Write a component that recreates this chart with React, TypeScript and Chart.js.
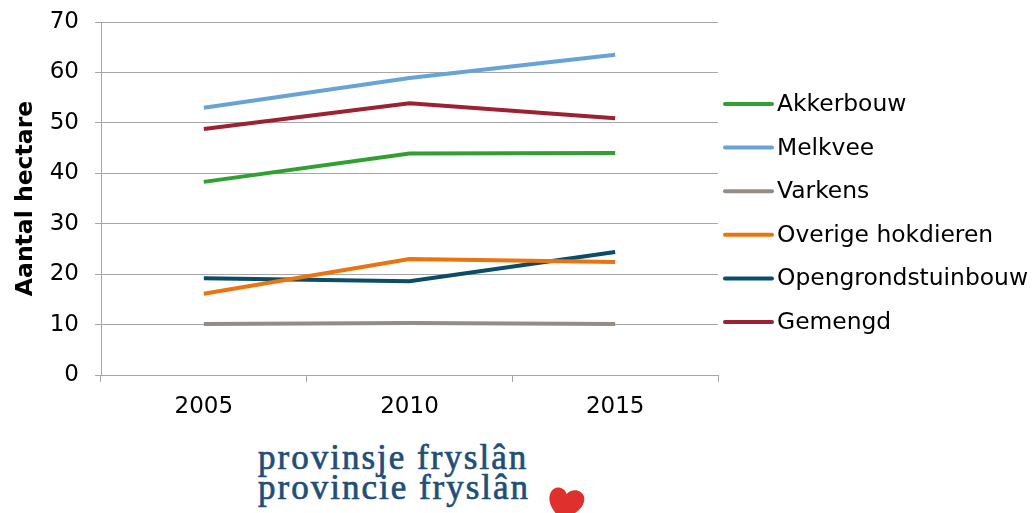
import React, { useEffect, useRef } from "react";
import { Chart, registerables } from "chart.js";

Chart.register(...registerables);

const years = ["2005", "2010", "2015"];
const akkerbouw = [38.3, 43.9, 44.0];
const melkvee = [53.0, 58.9, 63.5];
const varkens = [10.1, 10.3, 10.1];
const overigeHokdieren = [16.1, 23.0, 22.4];
const opengrondstuinbouw = [19.2, 18.6, 24.4];
const gemengd = [48.8, 53.9, 50.9];

const seriesNames = [
  "Akkerbouw",
  "Melkvee",
  "Varkens",
  "Overige hokdieren",
  "Opengrondstuinbouw",
  "Gemengd",
];
const seriesValues = [akkerbouw, melkvee, varkens, overigeHokdieren, opengrondstuinbouw, gemengd];
const seriesColors = ["#31a032", "#68a3d6", "#968c86", "#ea7410", "#0b4c69", "#9c2131"];

const yTicks = [0, 10, 20, 30, 40, 50, 60, 70];

const FONT = "'DejaVu Sans', Verdana, sans-serif";

const legendPlugin = {
  id: "sideLegend",
  afterDraw(chart: any) {
    const ctx = chart.ctx;
    const datasets = chart.data.datasets;
    ctx.save();
    ctx.font = `23.4px ${FONT}`;
    ctx.textBaseline = "middle";
    ctx.textAlign = "left";
    const x0 = 725;
    const x1 = 772;
    const startY = 104;
    const step = 43.6;
    datasets.forEach((ds: any, i: number) => {
      const y = startY + i * step;
      ctx.strokeStyle = ds.borderColor;
      ctx.lineWidth = 4;
      ctx.lineCap = "round";
      ctx.beginPath();
      ctx.moveTo(x0, y);
      ctx.lineTo(x1, y);
      ctx.stroke();
      ctx.fillStyle = "#000";
      ctx.fillText(ds.label, 777, y + 1);
    });
    ctx.restore();
  },
};

function LineChart() {
  const ref = useRef<HTMLCanvasElement>(null);
  useEffect(() => {
    if (!ref.current) return;
    const chart = new Chart(ref.current, {
      type: "line",
      data: {
        labels: years,
        datasets: seriesNames.map((name, i) => ({
          label: name,
          data: seriesValues[i],
          borderColor: seriesColors[i],
          backgroundColor: seriesColors[i],
          borderWidth: 4,
          pointRadius: 0,
          tension: 0,
          fill: false,
        })),
      },
      options: {
        animation: false,
        responsive: false,
        layout: { padding: { left: 0, right: 316, top: 22, bottom: 0 } },
        plugins: {
          legend: { display: false },
          tooltip: { enabled: false },
        },
        scales: {
          x: {
            offset: true,
            grid: {
              display: true,
              drawOnChartArea: false,
              drawTicks: true,
              tickLength: 7,
              offset: true,
              color: "#a6a6a6",
            },
            border: { color: "#a6a6a6" },
            ticks: { color: "#000", font: { family: FONT, size: 23 }, padding: 11 },
            afterFit: (scale: any) => {
              scale.height = 55;
              scale.paddingLeft = 0;
              scale.paddingRight = 0;
            },
          },
          y: {
            min: 0,
            max: 70,
            afterBuildTicks: (scale: any) => {
              scale.ticks = yTicks.map((v) => ({ value: v }));
            },
            grid: { color: "#a6a6a6", tickLength: 6 },
            border: { color: "#a6a6a6" },
            ticks: { color: "#000", font: { family: FONT, size: 23 }, padding: 16 },
            title: {
              display: true,
              text: "Aantal hectare",
              color: "#000",
              font: { family: FONT, size: 23.5, weight: "bold" },
              padding: { top: 12, bottom: 0 },
            },
            afterFit: (scale: any) => {
              scale.width = 101;
              scale.paddingTop = 0;
              scale.paddingBottom = 0;
            },
          },
        },
      },
      plugins: [legendPlugin],
    } as any);
    return () => chart.destroy();
  }, []);
  return <canvas ref={ref} width={1034} height={430} style={{ display: "block" }} />;
}

export default function App() {
  return (
    <div
      style={{
        position: "absolute",
        left: 0,
        top: 0,
        width: 1034,
        height: 513,
        background: "#fff",
        overflow: "hidden",
      }}
    >
      <div style={{ position: "absolute", left: 0, top: 0 }}>
        <LineChart />
      </div>
      <div
        style={{
          position: "absolute",
          left: 258,
          top: 443,
          fontFamily: "'Liberation Serif', 'Times New Roman', serif",
          fontSize: 35,
          lineHeight: "30px",
          letterSpacing: 2,
          color: "#1f4e79",
          WebkitTextStroke: "0.7px #1f4e79",
          whiteSpace: "nowrap",
        }}
      >
        <div>provinsje fryslân</div>
        <div>provincie fryslân</div>
      </div>
      <svg
        style={{ position: "absolute", left: 546, top: 484 }}
        width={40}
        height={36}
        viewBox="0 0 40 36"
      >
        <path
          transform="rotate(12 20 18)"
          d="M19 36 C 8 29, 1 21, 3 12 C 5 4, 15 3, 19 10 C 22 3, 34 2, 37 10 C 40 20, 31 29, 19 36 Z"
          fill="#e0302e"
        />
      </svg>
    </div>
  );
}
